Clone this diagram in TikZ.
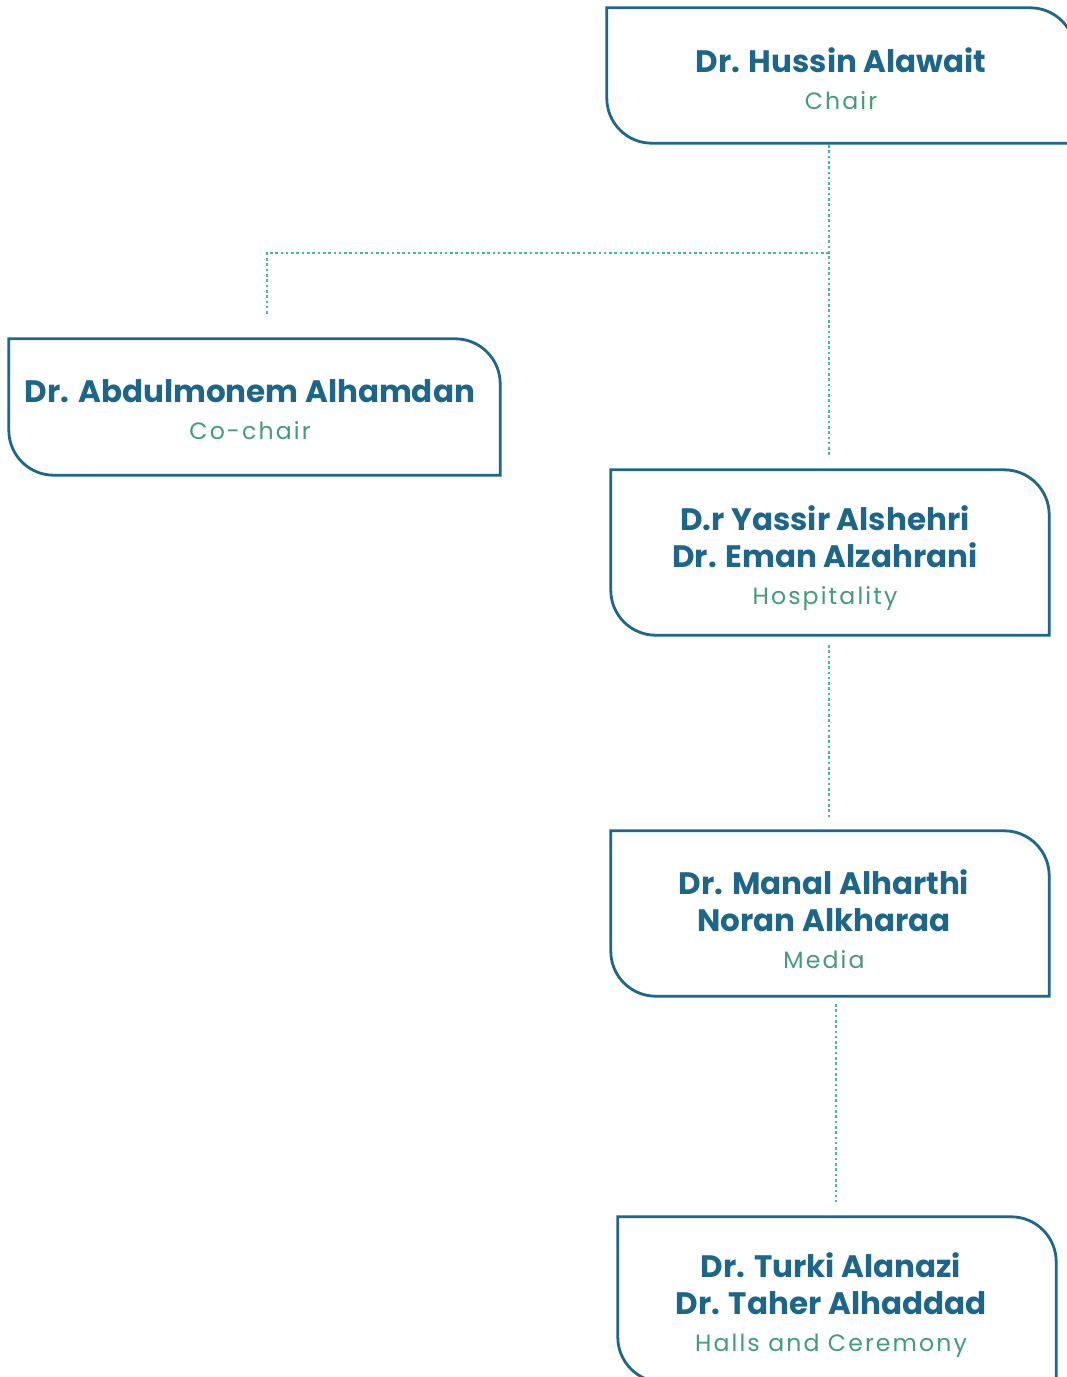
\documentclass[tikz,border=0pt]{standalone}
\usepackage{fontspec}
\setmainfont{Poppins}
\newfontfamily\labelfam[LetterSpace=9]{Poppins}
\definecolor{boxblue}{HTML}{1E668A}
\definecolor{nameblue}{HTML}{1D6689}
\definecolor{labgreen}{HTML}{439C77}
\definecolor{dotgreen}{HTML}{45BD8A}
\newcommand{\nm}{\fontsize{31}{37}\selectfont\bfseries\color{nameblue}}
\newcommand{\lb}{\fontsize{23.6}{37}\selectfont\labelfam\mdseries\color{labgreen}}
\begin{document}
\begin{tikzpicture}[x=1pt,y=-1pt,
  frame/.style={draw=none,rectangle,inner sep=0pt},
  txt/.style={align=center,inner sep=0pt,font=\nm},
  boxline/.style={draw=boxblue,line width=2.8pt},
  conn/.style={draw=dotgreen,line width=2.8pt,dash pattern=on 2.6pt off 2.7pt}]
\useasboundingbox[fill=white] (0,0) rectangle (1067,1377);
\newcommand{\leafpath}[1]{%
  \draw[boxline] (#1.north west) -- ([xshift=-45pt]#1.north east)
    arc[start angle=90,end angle=0,radius=45pt] -- (#1.south east)
    -- ([xshift=45pt]#1.south west)
    arc[start angle=270,end angle=180,radius=45pt] -- cycle;}
% boxes
\node[frame,minimum width=468pt,minimum height=135pt] (chair) at (841,75.5) {};
\node[frame,minimum width=491pt,minimum height=136pt] (cochair) at (254.5,407) {};
\node[frame,minimum width=438pt,minimum height=165pt] (hosp) at (830,552.5) {};
\node[frame,minimum width=438pt,minimum height=165pt] (media) at (830,913.5) {};
\node[frame,minimum width=438pt,minimum height=165pt] (halls) at (837,1299.5) {};
\leafpath{chair}
\leafpath{cochair}
\leafpath{hosp}
\leafpath{media}
\leafpath{halls}
% texts
\node[txt] (chairT) at (841,79) {Dr. Hussin Alawait\\{\lb Chair}};
\node[txt] (cochairT) at (250,410) {Dr. Abdulmonem Alhamdan\\{\lb Co-chair}};
\node[txt] (hospT) at (825,558.5) {D.r Yassir Alshehri\\Dr. Eman Alzahrani\\{\lb Hospitality}};
\node[txt] (mediaT) at (824,919.5) {Dr. Manal Alharthi\\Noran Alkharaa\\{\lb Media}};
\node[txt] (hallsT) at (831,1305.5) {Dr. Turki Alanazi\\Dr. Taher Alhaddad\\{\lb Halls and Ceremony}};
% connectors
\coordinate (c1) at (829,145);
\coordinate (j) at (829,253);
\coordinate (c2) at (829,455);
\coordinate (l1) at (267,253);
\coordinate (l2) at (267,314);
\coordinate (m1) at (829,645);
\coordinate (m2) at (829,817);
\coordinate (h1) at (836,1004);
\coordinate (h2) at (836,1202);
\draw[conn] (c1) -- (c2);
\draw[conn] (j) -- (l1) -- (l2);
\draw[conn] (m1) -- (m2);
\draw[conn] (h1) -- (h2);
\end{tikzpicture}
\end{document}
